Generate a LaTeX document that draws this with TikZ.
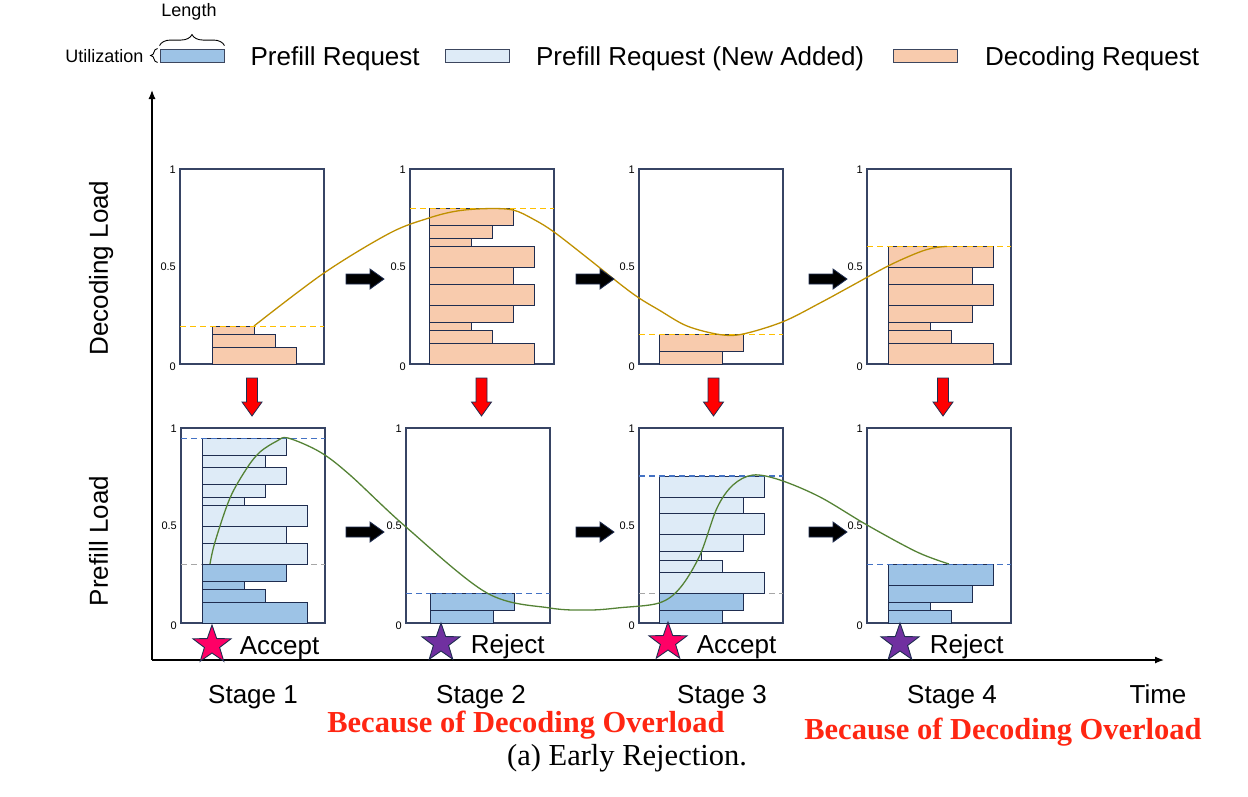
\documentclass[tikz,border=0pt]{standalone}
\usepackage{fontspec}
\setmainfont{Liberation Sans}
\newfontfamily\capfont{Liberation Serif}
\usetikzlibrary{arrows.meta,positioning,shapes.geometric,decorations.pathreplacing}

\definecolor{decfill}{RGB}{248,203,173}
\definecolor{prefdark}{RGB}{157,195,230}
\definecolor{preflight}{RGB}{222,235,247}
\definecolor{edgenavy}{RGB}{31,45,80}
\definecolor{framecol}{RGB}{55,68,100}
\definecolor{decline}{RGB}{191,144,0}
\definecolor{decdash}{RGB}{255,192,0}
\definecolor{prefline}{RGB}{84,130,53}
\definecolor{prefdash}{RGB}{68,114,196}
\definecolor{levelgray}{RGB}{166,166,166}
\definecolor{starpink}{RGB}{255,0,102}
\definecolor{starpurple}{RGB}{112,48,160}
\definecolor{warnred}{RGB}{255,38,18}

\tikzset{
  panel/.style={draw=framecol,line width=1.4pt},
  reqbar/.style={draw=edgenavy,line width=0.9pt},
  legbox/.style={draw=edgenavy!70!gray,line width=0.9pt,minimum width=64pt,minimum height=13pt,inner sep=0pt},
  tick/.style={font=\fontsize{11}{12}\selectfont,anchor=east,inner sep=0pt},
  lvl/.style={dash pattern=on 6pt off 4pt,line width=1.3pt},
  big/.style={font=\fontsize{26}{30}\selectfont,inner sep=0pt,text height=19pt,text depth=5.5pt},
  small/.style={font=\fontsize{18}{20}\selectfont,inner sep=0pt},
  warn/.style={font=\capfont\bfseries\fontsize{30.5}{34}\selectfont,text=warnred,inner sep=0pt},
  verdict/.style={star,star points=5,star point ratio=2.5,minimum size=40pt,inner sep=0pt,draw=edgenavy,line width=0.9pt},
  rarrow/.pic={\draw[fill=black,draw=edgenavy,line width=0.8pt]
    (-19,-5) -- (5,-5) -- (5,-10) -- (19,0) -- (5,10) -- (5,5) -- (-19,5) -- cycle;},
  darrow/.pic={\draw[fill=red,draw=edgenavy,line width=0.8pt]
    (-5.5,-19) -- (-5.5,5) -- (-10,5) -- (0,19) -- (10,5) -- (5.5,5) -- (5.5,-19) -- cycle;}
}

% stack of requests, bottom-up: x, y of bottom, fill, widths (height follows width)
\newcommand{\barstack}[4]{%
  \xdef\curY{#2}%
  \foreach \w in {#4}{%
    \pgfmathsetmacro{\nextY}{\curY-\w*4.2}%
    \draw[reqbar,fill=#3] (#1,\curY) rectangle ({#1+\w*21},\nextY);
    \xdef\curY{\nextY}%
  }}

% load panel with its scale: x, y of top
\newcommand{\loadpanel}[2]{%
  \draw[panel] (#1,#2) rectangle ++(144,195);
  \node[tick] at (#1-4,#2+1) {1};
  \node[tick] at (#1-4,#2+98) {0.5};
  \node[tick] at (#1-4,#2+198) {0};}

\begin{document}
\begin{tikzpicture}[x=1pt,y=-1pt]
  \useasboundingbox (0,0) rectangle (1248,796);

  % legend
  \node[legbox,fill=prefdark] (lg1) at (192,55.5) {};
  \node[small,left=16pt of lg1,yshift=-1pt] (util) {Utilization};
  \node[small] (len) at (189,12) {Length};
  \draw[line width=0.9pt,decorate,decoration={brace,amplitude=11pt}]
    ([yshift=3pt]lg1.north west) -- ([yshift=3pt]lg1.north east);
  \draw[line width=0.9pt,decorate,decoration={brace,amplitude=7pt}]
    ([xshift=-2pt]lg1.south west) -- ([xshift=-2pt]lg1.north west);
  \node[big,right=26pt of lg1,yshift=-3.5pt] (lt1) {Prefill Request};
  \node[legbox,fill=preflight] (lg2) at (477.5,55.5) {};
  \node[big,right=26pt of lg2,yshift=-3.5pt] (lt2) {Prefill Request (New Added)};
  \node[legbox,fill=decfill] (lg3) at (925.5,55.5) {};
  \node[big,right=27pt of lg3,yshift=-3.5pt] (lt3) {Decoding Request};

  % axes
  \coordinate (o) at (152,660);
  \coordinate (ytip) at (152,90);
  \coordinate (xtip) at (1164,660);
  \draw[line width=1.2pt,-{Latex[length=9pt,width=7pt]}] (o) -- (ytip);
  \draw[line width=1.2pt,-{Latex[length=9pt,width=7pt]}] (o) -- (xtip);
  \node[big,rotate=90] (dload) at (101,268) {Decoding Load};
  \node[big,rotate=90] (pload) at (101,541) {Prefill Load};

  % decoding panels
  \loadpanel{180}{169}
  \barstack{212}{364}{decfill}{4,3,2}
  \draw[lvl,decdash] (180,\curY) -- ++(144,0);
  \loadpanel{410}{169}
  \barstack{429}{364}{decfill}{5,3,2,4,5,4,5,2,3,4}
  \draw[lvl,decdash] (410,\curY) -- ++(144,0);
  \loadpanel{639}{169}
  \barstack{659}{364}{decfill}{3,4}
  \draw[lvl,decdash] (639,\curY) -- ++(144,0);
  \loadpanel{867}{169}
  \barstack{888}{364}{decfill}{5,3,2,4,5,4,5}
  \draw[lvl,decdash] (867,\curY) -- ++(144,0);

  % prefill panels
  \loadpanel{181}{428}
  \barstack{202}{623}{prefdark}{5,3,2,4}
  \draw[lvl,levelgray] (181,\curY) -- ++(144,0);
  \barstack{202}{\curY}{preflight}{5,4,5,2,3,4,3,4}
  \draw[lvl,prefdash] (181,\curY) -- ++(144,0);
  \loadpanel{406}{428}
  \barstack{430}{623}{prefdark}{3,4}
  \draw[lvl,prefdash] (406,\curY) -- ++(144,0);
  \loadpanel{639}{428}
  \barstack{659}{623}{prefdark}{3,4}
  \draw[lvl,levelgray] (639,\curY) -- ++(144,0);
  \barstack{659}{\curY}{preflight}{5,3,2,4,5,4,5}
  \draw[lvl,prefdash] (639,\curY) -- ++(144,0);
  \loadpanel{867}{428}
  \barstack{888}{623}{prefdark}{3,2,4,5}
  \draw[lvl,prefdash] (867,\curY) -- ++(144,0);

  % load curves
  \draw[decline,line width=1.3pt] plot[smooth,tension=0.55] coordinates {
    (254,326) (324,273) (390,233) (429,218) (457,211) (487,208.6) (513,210)
    (533,219) (554,232) (590,260) (620,284) (639,298) (659,310) (687,326)
    (720,334.6) (743,334) (783,321.7) (820,303) (850,286.7) (888,266)
    (917,253) (933,248) (947,246.4)};
  \draw[prefline,line width=1.3pt] plot[smooth,tension=0.55] coordinates {
    (210,564) (215,542) (230,498) (247,468) (260,452) (277,441) (288,438)
    (320,452) (350,475) (406,527) (487,593) (550,608) (590,610) (620,607.7)
    (659,603) (680,588) (700,555) (717,508) (733,485) (753,475) (780,480)
    (820,497) (867,525) (917,552) (949,564)};

  % transitions
  \foreach \x in {365,595,828} {
    \pic at (\x,279) {rarrow};
    \pic at (\x,532) {rarrow};
  }
  \foreach \x in {252,481.5,713.5,943}
    \pic at (\x,397) {darrow};

  % verdicts
  \node[verdict,fill=starpink] (st1) at (212,645) {};
  \node[verdict,fill=starpurple] (st2) at (441,643) {};
  \node[verdict,fill=starpink] (st3) at (668,642) {};
  \node[verdict,fill=starpurple] (st4) at (900,643) {};
  \node[big,right=16pt of st1,yshift=-3pt] (v1) {Accept};
  \node[big,right=18pt of st2,yshift=-4pt] (v2) {Reject};
  \node[big,right=17pt of st3,yshift=-5pt] (v3) {Accept};
  \node[big,right=18pt of st4,yshift=-4pt] (v4) {Reject};

  % time line labels
  \foreach \x/\s in {253/1,481/2,722/3,952/4}
    \node[big] (stage\s) at (\x,697) {Stage \s};
  \node[big] (time) at (1158,697) {Time};
  \node[warn] (why2) at (526,725.5) {Because of Decoding Overload};
  \node[warn] (why4) at (1003,732.5) {Because of Decoding Overload};
  \node[font=\capfont\fontsize{30.5}{34}\selectfont,inner sep=0pt] (cap) at (627,758) {(a) Early Rejection.};
\end{tikzpicture}
\end{document}
